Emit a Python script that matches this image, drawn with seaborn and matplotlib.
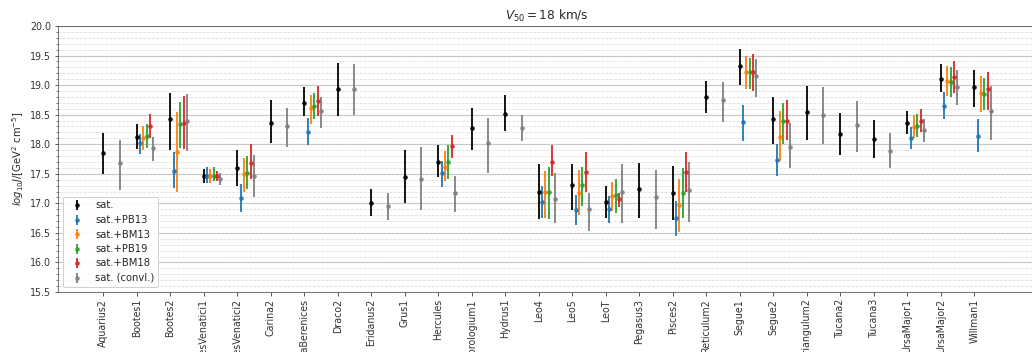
import numpy as np
import matplotlib
matplotlib.use("Agg")
import matplotlib.pyplot as plt
from matplotlib.ticker import MultipleLocator
import seaborn as sns

galaxies = ["Aquarius2", "Bootes1", "Bootes2", "CanesVenatici1", "CanesVenatici2",
            "Carina2", "ComaBerenices", "Draco2", "Eridanus2", "Grus1", "Hercules",
            "Horologium1", "Hydrus1", "Leo4", "Leo5", "LeoT", "Pegasus3", "Pisces2",
            "Reticulum2", "Segue1", "Segue2", "Triangulum2", "Tucana2", "Tucana3",
            "UrsaMajor1", "UrsaMajor2", "Willman1"]

nan = np.nan
# centre, lower bound, upper bound of log10 J for each series
sat_c = [17.85, 18.13, 18.43, 17.46, 17.60, 18.36, 18.70, 18.94, 17.01, 17.45, 17.70,
         18.27, 18.505, 17.19, 17.31, 17.03, 17.25, 17.18, 18.80, 19.33, 18.42, 18.54,
         18.18, 18.08, 18.36, 19.10, 18.97]
sat_lo = [17.49, 17.92, 17.90, 17.35, 17.29, 18.015, 18.47, 18.47, 16.78, 17.01, 17.45,
          17.90, 18.23, 16.74, 16.89, 16.76, 16.75, 16.71, 18.53, 19.01, 18.01, 18.07,
          17.82, 17.76, 18.17, 18.89, 18.63]
sat_hi = [18.195, 18.34, 18.87, 17.586, 17.90, 18.74, 18.97, 19.37, 17.24, 17.90, 17.99,
          18.61, 18.83, 17.66, 17.66, 17.29, 17.69, 17.64, 19.07, 19.61, 18.80, 18.98,
          18.52, 18.41, 18.56, 19.35, 19.25]

pb13_c = [nan, 18.02, 17.55, 17.46, 17.095, nan, 18.21, nan, nan, nan, 17.51, nan, nan,
          17.03, 16.89, 16.90, nan, 16.76, nan, 18.38, 17.73, nan, nan, nan, 18.10, 18.64, 18.14]
pb13_lo = [nan, 17.84, 17.26, 17.35, 16.86, nan, 17.99, nan, nan, nan, 17.28, nan, nan,
           16.75, 16.64, 16.67, nan, 16.44, nan, 18.05, 17.46, nan, nan, nan, 17.92, 18.42, 17.86]
pb13_hi = [nan, 18.18, 17.87, 17.61, 17.33, nan, 18.44, nan, nan, nan, 17.72, nan, nan,
           17.29, 17.14, 17.12, nan, 17.04, nan, 18.67, 18.01, nan, nan, nan, 18.29, 18.89, 18.43]

bm13_c = [nan, 18.10, 17.86, 17.46, 17.50, nan, 18.61, nan, nan, nan, 17.62, nan, nan,
          17.19, 17.18, 17.12, nan, 16.97, nan, 19.22, 18.13, nan, nan, nan, 18.29, 19.07, 18.87]
bm13_lo = [nan, 17.91, 17.20, 17.35, 17.19, nan, 18.35, nan, nan, nan, 17.38, nan, nan,
           16.75, 16.81, 16.87, nan, 16.51, nan, 18.94, 17.72, nan, nan, nan, 18.11, 18.82, 18.54]
bm13_hi = [nan, 18.31, 18.545, 17.586, 17.77, nan, 18.84, nan, nan, nan, 17.88, nan, nan,
           17.55, 17.56, 17.36, nan, 17.42, nan, 19.50, 18.56, nan, nan, nan, 18.49, 19.32, 19.15]

pb19_c = [nan, 18.14, 18.35, 17.47, 17.52, nan, 18.64, nan, nan, nan, 17.70, nan, nan,
          17.20, 17.31, 17.14, nan, 17.18, nan, 19.22, 18.39, nan, nan, nan, 18.31, 19.05, 18.85]
pb19_lo = [nan, 17.94, 17.94, 17.37, 17.25, nan, 18.42, nan, nan, nan, 17.42, nan, nan,
           16.74, 16.95, 16.84, nan, 16.76, nan, 18.93, 18.01, nan, nan, nan, 18.12, 18.80, 18.58]
pb19_hi = [nan, 18.34, 18.72, 17.61, 17.80, nan, 18.87, nan, nan, nan, 17.99, nan, nan,
           17.62, 17.62, 17.42, nan, 17.59, nan, 19.46, 18.69, nan, nan, nan, 18.51, 19.30, 19.12]

bm18_c = [nan, 18.31, 18.36, 17.46, 17.69, nan, 18.73, nan, nan, nan, 17.97, nan, nan,
          17.70, 17.53, 17.08, nan, 17.53, nan, 19.22, 18.39, nan, nan, nan, 18.40, 19.14, 18.93]
bm18_lo = [nan, 18.11, 17.92, 17.37, 17.41, nan, 18.48, nan, nan, nan, 17.77, nan, nan,
           17.46, 17.20, 16.94, nan, 17.20, nan, 18.90, 18.07, nan, nan, nan, 18.20, 18.87, 18.58]
bm18_hi = [nan, 18.51, 18.81, 17.55, 18.00, nan, 18.98, nan, nan, nan, 18.16, nan, nan,
           17.99, 17.86, 17.18, nan, 17.86, nan, 19.53, 18.74, nan, nan, nan, 18.60, 19.40, 19.23]

convl_c = [17.69, 17.94, 18.40, 17.41, 17.47, 18.30, 18.56, 18.94, 16.955, 17.42, 17.18,
           18.015, 18.28, 17.08, 16.90, 17.20, 17.11, 17.225, 18.74, 19.15, 17.95, 18.49,
           18.33, 17.88, 18.24, 18.97, 18.56]
convl_lo = [17.225, 17.72, 17.885, 17.315, 17.10, 17.96, 18.27, 18.49, 16.71, 16.89, 16.86,
            17.52, 18.05, 16.66, 16.54, 16.67, 16.56, 16.69, 18.38, 18.80, 17.59, 18.01,
            17.86, 17.60, 18.04, 18.66, 18.07]
convl_hi = [18.07, 18.13, 18.85, 17.52, 17.82, 18.62, 18.80, 19.35, 17.18, 17.95, 17.46,
            18.44, 18.50, 17.52, 17.18, 17.66, 17.57, 17.70, 19.05, 19.44, 18.36, 18.96,
            18.73, 18.195, 18.42, 19.25, 18.98]

series_labels = ["sat.", "sat.+PB13", "sat.+BM13", "sat.+PB19", "sat.+BM18", "sat. (convl.)"]

sns.set_style("ticks")
plt.rcParams["font.family"] = ["DejaVu Sans"]
plt.rcParams["font.size"] = 9.5

pal = sns.color_palette("tab10")
colors = ["black", pal[0], pal[1], pal[2], pal[3], "gray"]
offsets = [0.0, 0.1, 0.2, 0.3, 0.4, 0.5]

series = [(sat_c, sat_lo, sat_hi), (pb13_c, pb13_lo, pb13_hi), (bm13_c, bm13_lo, bm13_hi),
          (pb19_c, pb19_lo, pb19_hi), (bm18_c, bm18_lo, bm18_hi),
          (convl_c, convl_lo, convl_hi)]

fig = plt.figure(figsize=(1032 / 72, 352 / 72), dpi=72)
ax = fig.add_axes([58 / 1032, 1 - 292 / 352, 976.5 / 1032, 266 / 352])

xbase = np.arange(len(galaxies))
for (c, lo, hi), col, off, lab in zip(series, colors, offsets, series_labels):
    c = np.array(c, float)
    lo = np.array(lo, float)
    hi = np.array(hi, float)
    yerr = np.vstack([c - lo, hi - c])
    ax.errorbar(xbase + off, c, yerr=yerr, fmt="o", color=col, ms=3.5,
                elinewidth=2, capsize=0, label=lab, alpha=0.9)

ax.set_xlim(-1.35, 27.8)
ax.set_ylim(15.5, 20.0)
ax.yaxis.set_major_locator(MultipleLocator(0.5))
ax.yaxis.set_minor_locator(MultipleLocator(0.1))
ax.grid(axis="y", which="major", color="#c8c8c8", lw=1.2, ls="-")
ax.grid(axis="y", which="minor", color="#dddddd", lw=0.8, ls="--")
ax.set_axisbelow(True)
ax.set_xticks(xbase)
ax.set_xticklabels(galaxies, rotation=90)
ax.tick_params(axis="both", labelsize=9.5, colors="#333333")
ax.set_ylabel(r"$log_{10}J/[\mathrm{GeV}^2\ \mathrm{cm}^{-5}]$", fontsize=10)
ax.set_title(r"$V_{50} = 18$ km/s", fontsize=12)
for s in ax.spines.values():
    s.set_color("#555555")

ax.legend(loc="lower left", fontsize=10, handlelength=2.0, borderpad=0.4,
          labelspacing=0.45, framealpha=0.9)

fig.savefig("out.png", dpi=72)
